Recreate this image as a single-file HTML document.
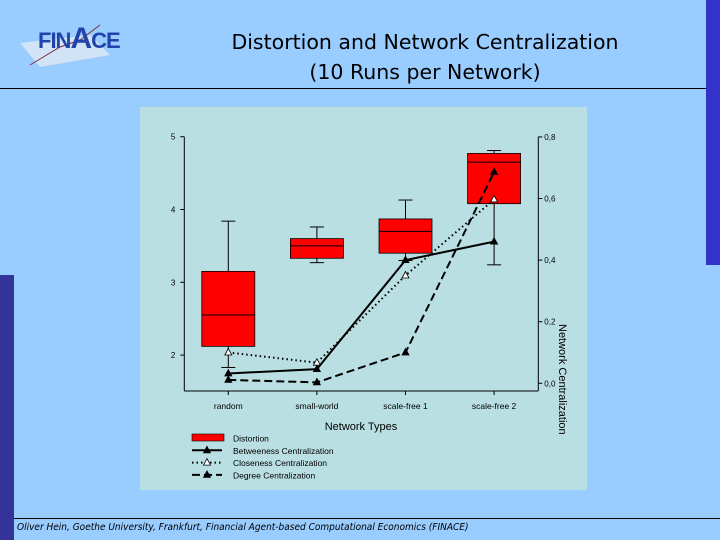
<!DOCTYPE html>
<html><head><meta charset="utf-8"><style>
body{margin:0;width:720px;height:540px;overflow:hidden;background:#99CCFF;font-family:"Liberation Sans",sans-serif;position:relative}
.abs{position:absolute}
</style></head><body>
<div class="abs" style="left:706px;top:0;width:14px;height:265px;background:#3333CC"></div>
<div class="abs" style="left:0;top:275px;width:14px;height:265px;background:#333399"></div>
<div class="abs" style="left:0;top:88px;width:706px;height:1px;background:#000"></div>
<div class="abs" style="left:14px;top:518px;width:706px;height:1px;background:#000"></div>
<svg class="abs" style="left:10px;top:15px" width="110" height="60">
<polygon points="10,28 80,20 100,40 30,52" fill="#dde8f5" opacity="0.8"/>
<polyline points="20,50 50,32 70,25 90,10" fill="none" stroke="#803040" stroke-width="1"/>
</svg>
<div class="abs" style="left:38px;top:22px;font:bold 22px 'Liberation Sans',sans-serif;color:#2244aa;letter-spacing:-1px">FIN<span style="font-size:30px">A</span>CE</div>
<div class="abs" style="left:180px;top:27px;width:490px;text-align:center;font:20.5px 'DejaVu Sans',sans-serif;line-height:30px;color:#000">Distortion and Network Centralization<br>(10 Runs per Network)</div>
<div class="abs" style="left:17px;top:522px;font:italic 10px 'DejaVu Sans Condensed','DejaVu Sans',sans-serif;color:#000">Oliver Hein, Goethe University, Frankfurt, Financial Agent-based Computational Economics (FINACE)</div>
<svg class="abs" style="left:0;top:0" width="720" height="540">
<rect x="140" y="107" width="447" height="383" fill="#BADFE2"/>
<g id="g"></g>
</svg>
<script>
const categories=["random","small-world","scale-free 1","scale-free 2"];
const boxLow=[1.83,3.27,3.30,3.24];
const boxQ1=[2.12,3.33,3.40,4.08];
const boxMed=[2.55,3.50,3.70,4.65];
const boxQ3=[3.15,3.60,3.87,4.77];
const boxHigh=[3.84,3.76,4.13,4.81];
const betweenness=[0.032,0.046,0.40,0.46];
const closeness=[0.10,0.067,0.35,0.597];
const degree=[0.011,0.003,0.10,0.686];
const leftTicks=[2,3,4,5];
const rightTicks=["0,0","0,2","0,4","0,6","0,8"];
const rightTickVals=[0,0.2,0.4,0.6,0.8];

const NS="http://www.w3.org/2000/svg",g=document.getElementById('g');
const xL=184.3,xR=538.3,yBot=391;
const yl=v=>136.7+(5-v)*72.8;
const yr=v=>383.3-v*308;
const xc=i=>228.3+i*88.6;
function el(t,a,txt){const e=document.createElementNS(NS,t);for(const k in a)e.setAttribute(k,a[k]);if(txt!=null)e.textContent=txt;g.appendChild(e);return e;}
const ax={stroke:"#000","stroke-width":1};
let e;
e=el('line',Object.assign({x1:xL,y1:136.7,x2:xL,y2:yBot},ax));
e=el('line',Object.assign({x1:xR,y1:136.7,x2:xR,y2:yBot},ax));
e=el('line',Object.assign({x1:xL,y1:yBot,x2:xR,y2:yBot},ax));
leftTicks.forEach(v=>{el('line',Object.assign({x1:xL-4,y1:yl(v),x2:xL,y2:yl(v)},ax));
e=el('text',{x:xL-9,y:yl(v)+3,"font-size":8,"text-anchor":"end"},String(v));});
rightTickVals.forEach((v,i)=>{el('line',Object.assign({x1:xR,y1:yr(v),x2:xR+4,y2:yr(v)},ax));
e=el('text',{x:xR+6,y:yr(v)+3,"font-size":8},rightTicks[i]);});
categories.forEach((c,i)=>{el('line',Object.assign({x1:xc(i),y1:yBot,x2:xc(i),y2:yBot+4},ax));
e=el('text',{x:xc(i),y:yBot+18,"font-size":8.5,"text-anchor":"middle"},c);
const w=26.5;
el('line',Object.assign({x1:xc(i),y1:yl(boxHigh[i]),x2:xc(i),y2:yl(boxLow[i])},ax));
el('line',Object.assign({x1:xc(i)-7,y1:yl(boxHigh[i]),x2:xc(i)+7,y2:yl(boxHigh[i])},ax));
el('line',Object.assign({x1:xc(i)-7,y1:yl(boxLow[i]),x2:xc(i)+7,y2:yl(boxLow[i])},ax));
e=el('rect',{x:xc(i)-w,y:yl(boxQ3[i]),width:2*w,height:yl(boxQ1[i])-yl(boxQ3[i]),fill:"#FF0000",stroke:"#000","stroke-width":0.8});
el('line',Object.assign({x1:xc(i)-w,y1:yl(boxMed[i]),x2:xc(i)+w,y2:yl(boxMed[i])},ax));});
function series(vals,dash,fill,name){
e=el('polyline',{points:vals.map((v,i)=>xc(i)+","+yr(v)).join(" "),fill:"none",stroke:"#000","stroke-width":2,"stroke-dasharray":dash});
vals.forEach((v,i)=>{const x=xc(i),y=yr(v);e=el('polygon',{points:`${x},${y-4} ${x-3.5},${y+2.5} ${x+3.5},${y+2.5}`,fill:fill,stroke:"#000","stroke-width":0.8});});}
series(closeness,"1.5 3","#fff","closeness");
series(degree,"8 4","#000","degree");
series(betweenness,"none","#000","betweenness");
e=el('text',{x:361,y:430,"font-size":11,"text-anchor":"middle"},"Network Types");
e=el('text',{x:0,y:0,"font-size":11,transform:"translate(559,324) rotate(90)"},"Network Centralization");
const leg=[["Distortion","box"],["Betweeness Centralization","none"],["Closeness Centralization","1.5 3"],["Degree Centralization","8 4"]];
leg.forEach((l,i)=>{const y=438+i*12.3;
if(l[1]=="box"){el('rect',{x:192,y:y-4,width:32,height:7,fill:"#FF0000",stroke:"#000","stroke-width":0.6});}
else{el('line',{x1:192,y1:y,x2:222,y2:y,stroke:"#000","stroke-width":2,"stroke-dasharray":l[1]});
el('polygon',{points:`207,${y-4} 203.5,${y+2.5} 210.5,${y+2.5}`,fill:i==2?"#fff":"#000",stroke:"#000","stroke-width":0.8});}
e=el('text',{x:233,y:y+3.5,"font-size":8.5},l[0]);});
</script>
</body></html>
